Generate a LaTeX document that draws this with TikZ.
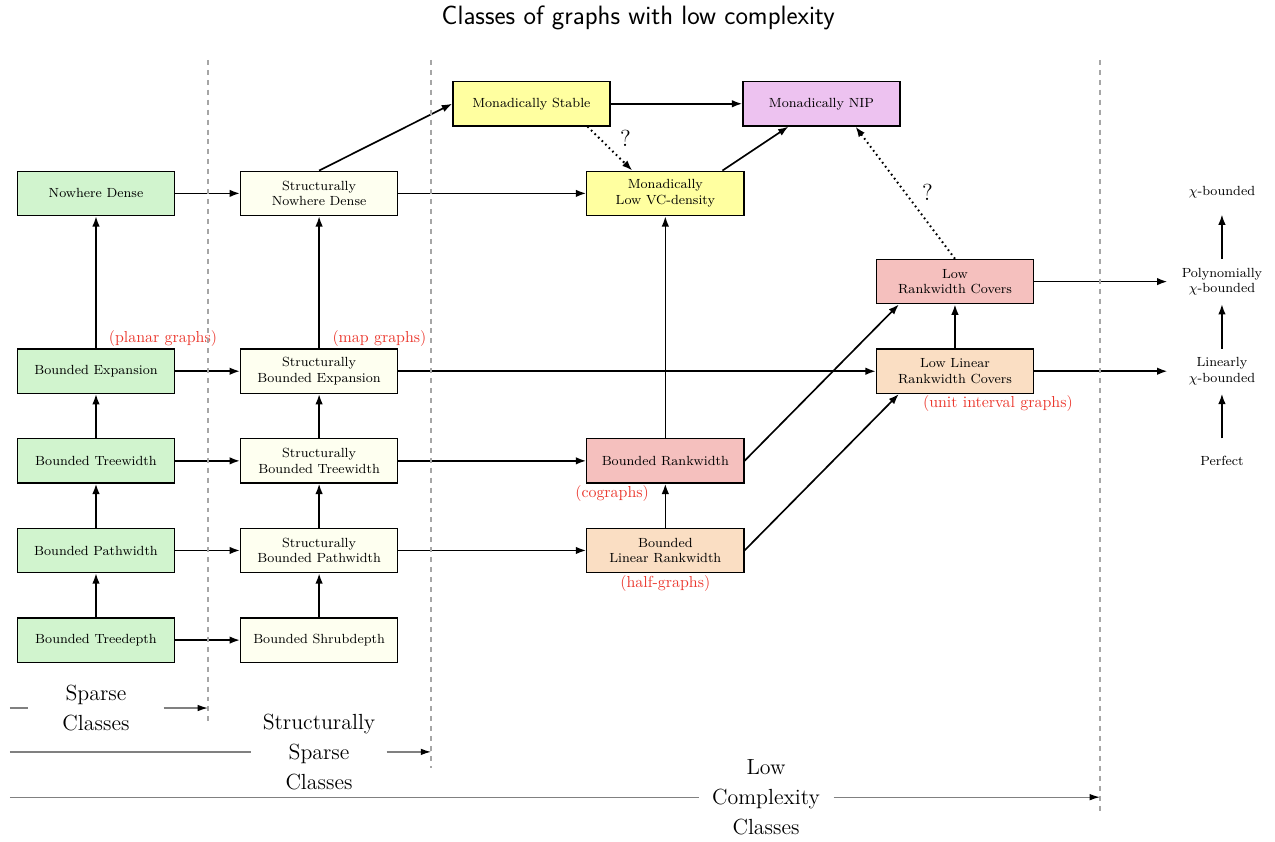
\documentclass[tikz,border=0pt]{standalone}
\usetikzlibrary{positioning,arrows.meta}
\definecolor{sparsegreen}{RGB}{209,244,206}
\definecolor{structivory}{RGB}{254,255,240}
\definecolor{stableyellow}{RGB}{255,255,160}
\definecolor{niplilac}{RGB}{237,194,240}
\definecolor{rankpink}{RGB}{245,192,190}
\definecolor{linpeach}{RGB}{250,222,195}
\definecolor{examplered}{RGB}{235,55,45}
\begin{document}
\begin{tikzpicture}[
      on grid,
      node distance=1.9cm and 4.73cm,
      every node/.style={align=center},
      cls/.style={draw, thick, minimum width=3.33cm, minimum height=0.94cm, font=\footnotesize},
      sparse/.style={cls, fill=sparsegreen},
      ssparse/.style={cls, fill=structivory},
      stable/.style={cls, fill=stableyellow},
      nip/.style={cls, fill=niplilac},
      rankbox/.style={cls, fill=rankpink},
      linrank/.style={cls, fill=linpeach},
      chiprop/.style={minimum width=2.3cm, minimum height=0.94cm, font=\footnotesize},
      note/.style={text=examplered, inner sep=1pt, font=\fontsize{9.6}{11}\selectfont},
      imp/.style={-{Latex[length=2.2mm, width=1.6mm]}, line width=1pt},
      maybe/.style={imp, dotted, line width=1.2pt},
      ask/.style={font=\fontsize{14}{16}\selectfont},
      separator/.style={gray!70, dashed, line width=1.3pt},
      classrange/.style={gray, line width=0.8pt, -{Latex[length=2.2mm, width=1.4mm, color=black]}},
      rangelbl/.style={fill=white, minimum width=2.85cm, inner sep=1pt, font=\fontsize{13.2}{18}\selectfont}
    ]
      \useasboundingbox (0,0) rectangle (27.03,-17.85);

% Title
      \node[font=\sffamily\fontsize{16}{19}\selectfont] (title) at (13.53,-0.38) {Classes of graphs with low complexity};

% Nodes
      \node[sparse] (btd) at (2.035,-13.57) {Bounded Treedepth};
      \node[sparse, above=of btd] (bpw) {Bounded Pathwidth};
      \node[sparse, above=of bpw] (btw) {Bounded Treewidth};
      \node[sparse, above=of btw] (be) {Bounded Expansion};
      \node[sparse, above=3.77cm of be] (nd) {Nowhere Dense};

      \node[ssparse, right=of btd] (bsd) {Bounded Shrubdepth};
      \node[ssparse, right=of bpw] (sbpw) {Structurally\\Bounded Pathwidth};
      \node[ssparse, right=of btw] (sbtw) {Structurally\\Bounded Treewidth};
      \node[ssparse, right=of be] (sbe) {Structurally\\Bounded Expansion};
      \node[ssparse, right=of nd] (snd) {Structurally\\Nowhere Dense};

      \node[stable, right=7.34cm of snd] (mlvc) {Monadically\\Low VC-density};
      \node[stable, above left=1.9cm and 2.84cm of mlvc] (ms) {Monadically Stable};
      \node[nip, above right=1.9cm and 3.31cm of mlvc] (mnip) {Monadically NIP};
      \node[rankbox, right=7.34cm of sbtw] (br) {Bounded Rankwidth};
      \node[linrank, right=7.34cm of sbpw] (blr) {Bounded\\Linear Rankwidth};

      \node[linrank, right=13.48cm of sbe] (llrc) {Low Linear\\Rankwidth Covers};
      \node[rankbox, above=of llrc] (lrc) {Low\\Rankwidth Covers};

      \node[chiprop, right=5.66cm of llrc] (lin) {Linearly\\$\chi$-bounded};
      \node[chiprop, below=of lin] (perf) {Perfect};
      \node[chiprop, above=of lin] (poly) {Polynomially\\$\chi$-bounded};
      \node[chiprop, above=of poly] (chib) {$\chi$-bounded};

% Examples
      \node[note, anchor=south] (planar) at ([xshift=-0.26cm]be.north east) {(planar graphs)};
      \node[note, anchor=south] (map) at ([xshift=-0.4cm]sbe.north east) {(map graphs)};
      \node[note, anchor=north] (cog) at ([xshift=0.55cm]br.south west) {(cographs)};
      \node[note, anchor=north] (half) at (blr.south) {(half-graphs)};
      \node[note, anchor=north] (unit) at ([xshift=0.91cm]llrc.south) {(unit interval graphs)};

% Connections
      \draw[imp] (btd) -- (bpw);
      \draw[imp] (bpw) -- (btw);
      \draw[imp] (btw) -- (be);
      \draw[imp] (be) -- (nd);
      \draw[imp] (bsd) -- (sbpw);
      \draw[imp] (sbpw) -- (sbtw);
      \draw[imp] (sbtw) -- (sbe);
      \draw[imp] (sbe) -- (snd);

      \draw[imp] (btd) -- (bsd);
      \draw[imp] (bpw) -- (sbpw);
      \draw[imp] (btw) -- (sbtw);
      \draw[imp] (be) -- (sbe);
      \draw[imp] (nd) -- (snd);

      \draw[imp] (snd.north) -- (ms.west);
      \draw[imp] (snd) -- (mlvc);
      \draw[imp] (ms) -- (mnip);
      \draw[maybe] ([xshift=1.19cm]ms.south) -- node[ask, xshift=0.33cm, yshift=0.21cm] (q1) {?} ([xshift=-0.7cm]mlvc.north);
      \draw[imp] ([xshift=1.21cm]mlvc.north) -- ([xshift=-0.7cm]mnip.south);

      \draw[imp] (sbe) -- (llrc);
      \draw[imp] (sbtw) -- (br);
      \draw[imp] (sbpw) -- (blr);
      \draw[imp] (blr) -- (br);
      \draw[imp] (br) -- (mlvc);
      \draw[imp] (br.east) -- ([xshift=0.49cm]lrc.south west);
      \draw[imp] (blr.east) -- ([xshift=0.49cm]llrc.south west);
      \draw[imp] (llrc) -- (lrc);
      \draw[maybe] (lrc.north) -- node[ask, xshift=0.47cm] (q2) {?} ([xshift=0.72cm]mnip.south);

      \draw[imp] (lrc) -- (poly);
      \draw[imp] (llrc) -- (lin);
      \draw[imp] (perf) -- (lin);
      \draw[imp] (lin) -- (poly);
      \draw[imp] (poly) -- (chib);

% Separators
      \draw[separator] (4.41,-1.27) -- (4.41,-15.31);
      \draw[separator] (9.14,-1.27) -- (9.14,-16.28);
      \draw[separator] (23.32,-1.27) -- (23.32,-17.21);

% Ranges
      \coordinate (s0) at (0.21,-15.01);
      \coordinate (s1) at (4.41,-15.01);
      \coordinate (ss0) at (0.21,-15.94);
      \coordinate (ss1) at (9.14,-15.94);
      \coordinate (lc0) at (0.21,-16.90);
      \coordinate (lc1) at (23.32,-16.90);
      \node[rangelbl] (sparselbl) at (2.035,-15.01) {Sparse\\Classes};
      \node[rangelbl] (ssparselbl) at (6.763,-15.94) {Structurally\\Sparse\\Classes};
      \node[rangelbl] (lowlbl) at (16.24,-16.90) {Low\\Complexity\\Classes};
      \draw[classrange] (s0) -- (sparselbl) -- (s1);
      \draw[classrange] (ss0) -- (ssparselbl) -- (ss1);
      \draw[classrange] (lc0) -- (lowlbl) -- (lc1);

    \end{tikzpicture}
\end{document}
